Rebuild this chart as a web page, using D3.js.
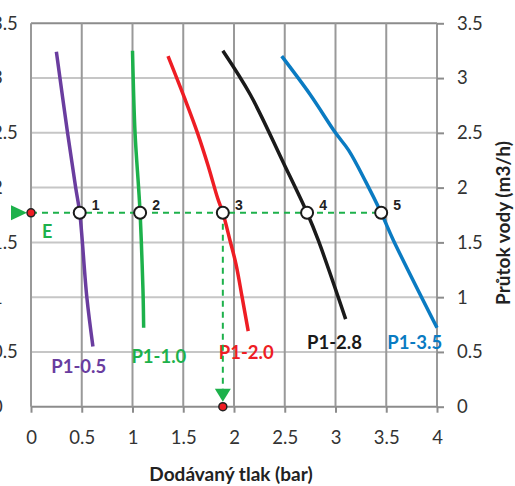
<!DOCTYPE html>
<html>
<head>
<meta charset="utf-8">
<script src="https://cdn.jsdelivr.net/npm/d3@7"></script>
<style>
body { margin: 0; background: #fff; }
svg { display: block; }
.tick text { font-family: Lato, "Open Sans", sans-serif; }
</style>
</head>
<body>
<script>
var w = 515, h = 486;
var margin = {"left": 31, "right": 78, "top": 23.3, "bottom": 79.3};

// curve data: pressure (bar) vs water flow (m3/h)
var seriesNames = ["P1-0.5", "P1-1.0", "P1-2.0", "P1-2.8", "P1-3.5"];
var p05x = [0.25, 0.36, 0.44, 0.48, 0.55, 0.61];
var p05y = [3.24, 2.5, 2.0, 1.77, 1.0, 0.55];
var p10x = [1.0, 1.025, 1.06, 1.075, 1.095, 1.105, 1.11];
var p10y = [3.25, 2.5, 2.0, 1.77, 1.3, 1.0, 0.72];
var p20x = [1.35, 1.52, 1.64, 1.745, 1.84, 1.89, 1.96, 2.02, 2.08, 2.14];
var p20y = [3.2, 2.8, 2.5, 2.2, 1.9, 1.77, 1.52, 1.3, 1.0, 0.69];
var p28x = [1.89, 2.16, 2.49, 2.72, 2.83, 3.1];
var p28y = [3.25, 2.85, 2.22, 1.77, 1.52, 0.8];
var p35x = [2.47, 2.75, 3.0, 3.13, 3.3, 3.45, 3.57, 4.0];
var p35y = [3.2, 2.85, 2.5, 2.34, 2.05, 1.77, 1.52, 0.72];

// operating points 1..5 at flow E
var pointNames = ["1", "2", "3", "4", "5"];
var pointX = [0.48, 1.075, 1.89, 2.72, 3.45];
var flowE = 1.77;

var xTicks = [0, 0.5, 1, 1.5, 2, 2.5, 3, 3.5, 4];
var yTicks = [0, 0.5, 1, 1.5, 2, 2.5, 3, 3.5];

var colors = ["#6a3d9f", "#1db14b", "#ee1d24", "#1a1a1a", "#0a7bc2"];
var labelAt = [[0.47, 0.37], [1.26, 0.46], [2.12, 0.50], [2.99, 0.59], [3.78, 0.59]];

var xs = [p05x, p10x, p20x, p28x, p35x];
var ys = [p05y, p10y, p20y, p28y, p35y];
var series = seriesNames.map(function(n, i){
    return {name: n, pts: xs[i].map(function(x, j){ return [x, ys[i][j]]; })};
});

var svg = d3.select("body").append("svg")
    .attr("width", w).attr("height", h);

var xScale = d3.scaleLinear().domain([0, 4]).range([margin.left, w - margin.right]);
var yScale = d3.scaleLinear().domain([0, 3.5]).range([h - margin.bottom, margin.top]);

// grid
svg.append("g").selectAll("line").data(yTicks).enter().append("line")
    .attr("x1", xScale(0)).attr("x2", xScale(4))
    .attr("y1", yScale).attr("y2", yScale)
    .attr("stroke", function(d){ return (d == 0 || d == 3.5) ? "#8c8c8c" : "#c6c6c6"; })
    .attr("stroke-width", 2);
svg.append("g").selectAll("line").data(xTicks).enter().append("line")
    .attr("x1", xScale).attr("x2", xScale)
    .attr("y1", yScale(3.5)).attr("y2", yScale(0))
    .attr("stroke", "#999").attr("stroke-width", 2);

// axes
var xAxis = d3.axisBottom(xScale).tickValues(xTicks).tickSize(6).tickPadding(18)
    .tickFormat(d3.format(""));
var gx = svg.append("g").attr("transform", "translate(0," + yScale(0) + ")").call(xAxis);

var yAxisR = d3.axisRight(yScale).tickValues(yTicks).tickSize(7).tickPadding(13)
    .tickFormat(d3.format(""));
var gy = svg.append("g").attr("transform", "translate(" + xScale(4) + ",0)").call(yAxisR);

// left copy of the flow labels, cut by the picture edge as in the original
var yAxisL = d3.axisRight(yScale).tickValues(yTicks).tickSize(0).tickPadding(0)
    .tickFormat(d3.format(""));
var gyl = svg.append("g").attr("transform", "translate(-8,0)").call(yAxisL);

[gx, gy, gyl].forEach(function(g){
    g.select(".domain").remove();
    g.selectAll(".tick line").attr("stroke", "#8c8c8c").attr("stroke-width", 2);
    g.selectAll(".tick text").attr("font-size", 18.5).attr("fill", "#333");
});

// curves
var line = d3.line()
    .x(function(d){ return xScale(d[0]); })
    .y(function(d){ return yScale(d[1]); })
    .curve(d3.curveCatmullRom.alpha(0.5));

svg.append("g").selectAll("path").data(series).enter().append("path")
    .attr("d", function(d){ return line(d.pts); })
    .attr("fill", "none")
    .attr("stroke", function(d, i){ return colors[i]; })
    .attr("stroke-width", 3.5);

svg.append("g").selectAll("text").data(series).enter().append("text")
    .attr("x", function(d, i){ return xScale(labelAt[i][0]); })
    .attr("y", function(d, i){ return yScale(labelAt[i][1]); })
    .attr("text-anchor", "middle")
    .attr("dy", "0.36em")
    .attr("font-family", "Lato, sans-serif")
    .attr("font-weight", "bold")
    .attr("font-size", 18.5)
    .attr("fill", function(d, i){ return colors[i]; })
    .text(function(d){ return d.name; });

// dashed guide lines
var green = "#1db14b";
svg.append("line")
    .attr("x1", xScale(0)).attr("x2", xScale(pointX[4]))
    .attr("y1", yScale(flowE)).attr("y2", yScale(flowE))
    .attr("stroke", green).attr("stroke-width", 2).attr("stroke-dasharray", "6,5");
svg.append("line")
    .attr("x1", xScale(pointX[2])).attr("x2", xScale(pointX[2]))
    .attr("y1", yScale(flowE)).attr("y2", yScale(0) - 14)
    .attr("stroke", green).attr("stroke-width", 2).attr("stroke-dasharray", "6,5");

// arrows
var ex = xScale(0), ey = yScale(flowE);
svg.append("path")
    .attr("d", "M" + (ex - 20) + "," + (ey - 7.5) + "L" + (ex - 4) + "," + ey + "L" + (ex - 20) + "," + (ey + 7.5) + "Z")
    .attr("fill", green);
var px = xScale(pointX[2]), py = yScale(0);
svg.append("path")
    .attr("d", "M" + (px - 8) + "," + (py - 18) + "L" + (px + 8) + "," + (py - 18) + "L" + px + "," + (py - 5) + "Z")
    .attr("fill", green);

// red dots
svg.selectAll("circle.red").data([[0, flowE], [pointX[2], 0]]).enter().append("circle")
    .attr("class", "red")
    .attr("cx", function(d){ return xScale(d[0]); })
    .attr("cy", function(d){ return yScale(d[1]); })
    .attr("r", 4)
    .attr("fill", "#ee1d24").attr("stroke", "#222").attr("stroke-width", 1.5);

svg.append("text")
    .attr("x", xScale(0) + 11).attr("y", ey + 25)
    .attr("font-family", "Lato, sans-serif").attr("font-weight", "bold")
    .attr("font-size", 18).attr("fill", green)
    .text("E");

// operating points
svg.append("g").selectAll("circle").data(pointX).enter().append("circle")
    .attr("cx", xScale).attr("cy", yScale(flowE))
    .attr("r", 6)
    .attr("fill", "#fff").attr("stroke", "#1a1a1a").attr("stroke-width", 2);

svg.append("g").selectAll("text").data(pointNames).enter().append("text")
    .attr("x", function(d, i){ return xScale(pointX[i]) + 16; })
    .attr("y", yScale(flowE) - 3)
    .attr("text-anchor", "middle")
    .attr("font-family", "Liberation Sans, Arial, sans-serif")
    .attr("font-weight", "bold").attr("font-size", 14).attr("fill", "#222")
    .text(function(d){ return d; });

// axis titles
svg.append("text")
    .attr("x", 231).attr("y", 481)
    .attr("text-anchor", "middle")
    .attr("font-family", "Lato, sans-serif").attr("font-weight", "bold")
    .attr("font-size", 19).attr("fill", "#222")
    .text("Dodávaný tlak (bar)");

svg.append("text")
    .attr("transform", "translate(510,223) rotate(-90)")
    .attr("text-anchor", "middle")
    .attr("font-family", "Lato, sans-serif").attr("font-weight", "bold")
    .attr("font-size", 19).attr("fill", "#222")
    .text("Průtok vody (m3/h)");
</script>
</body>
</html>
